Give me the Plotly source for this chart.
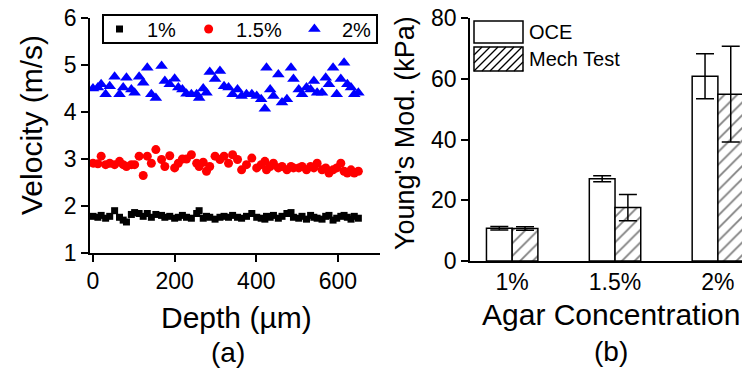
import plotly.graph_objects as go

# ---------------- data ----------------
depth = [0, 12, 20, 31, 41, 53, 65, 74, 82, 94, 102, 113, 123, 133, 143, 154, 168, 176, 188, 200,
         209, 219, 229, 241, 254, 260, 270, 278, 286, 299, 311, 321, 332, 342, 354, 364, 376, 389, 401, 412,
         421, 425, 434, 442, 454, 463, 475, 485, 491, 504, 512, 523, 533, 541, 549, 561, 570, 578, 588, 597,
         607, 615, 623, 632, 640, 650]

vel_1 = [1.78, 1.76, 1.80, 1.74, 1.78, 1.90, 1.76, 1.70, 1.66, 1.82,
         1.86, 1.84, 1.78, 1.84, 1.76, 1.82, 1.80, 1.76, 1.78, 1.74,
         1.76, 1.80, 1.76, 1.74, 1.84, 1.90, 1.74, 1.78, 1.76, 1.72,
         1.76, 1.78, 1.76, 1.80, 1.76, 1.74, 1.78, 1.84, 1.76, 1.74,
         1.72, 1.78, 1.76, 1.80, 1.74, 1.78, 1.84, 1.86, 1.76, 1.74,
         1.78, 1.72, 1.80, 1.76, 1.74, 1.72, 1.78, 1.80, 1.70, 1.74,
         1.78, 1.80, 1.76, 1.72, 1.78, 1.74]

vel_15 = [2.91, 2.90, 3.06, 2.88, 2.91, 2.88, 2.95, 2.88, 2.84, 2.88,
          2.88, 3.06, 2.65, 3.06, 2.91, 3.20, 2.99, 2.84, 3.07, 2.81,
          2.91, 3.00, 3.00, 3.09, 2.91, 2.84, 2.93, 2.74, 2.84, 3.06,
          2.99, 3.06, 2.91, 3.09, 2.99, 2.77, 2.88, 3.02, 2.81, 2.88,
          2.95, 2.77, 2.84, 2.91, 2.81, 2.84, 2.77, 2.84, 2.81, 2.81,
          2.84, 2.77, 2.84, 2.81, 2.91, 2.77, 2.81, 2.70, 2.77, 2.81,
          2.91, 2.74, 2.70, 2.77, 2.70, 2.74]

vel_2 = [4.50, 4.52, 4.59, 4.38, 4.55, 4.75, 4.38, 4.52, 4.73, 4.48,
         4.41, 4.75, 4.62, 4.94, 4.38, 4.30, 4.98, 4.66, 4.59, 4.71,
         4.52, 4.48, 4.39, 4.38, 4.38, 4.30, 4.50, 4.41, 4.85, 4.70,
         4.87, 4.55, 4.52, 4.38, 4.48, 4.34, 4.38, 4.38, 4.34, 4.27,
         4.07, 4.94, 4.48, 4.34, 4.80, 4.20, 4.27, 4.94, 4.70, 4.48,
         4.38, 4.52, 4.48, 4.66, 4.41, 4.41, 4.73, 4.59, 4.94, 4.38,
         4.70, 5.05, 4.59, 4.52, 4.38, 4.41]

concentrations = ["1%", "1.5%", "2%"]
oce_mod = [10.8, 27.1, 60.9]
oce_err = [0.6, 1.0, 7.4]
mech_mod = [10.7, 17.6, 55.0]
mech_err = [0.6, 4.3, 15.8]

# ---------------- helpers ----------------
W, H = 750, 373
OFF = 8  # browser page margin: the figure is drawn 8 px right and down
FONT = "Arial, Liberation Sans, sans-serif"


def px(x):
    return (x - OFF) / W


def py(y):
    return 1 - (y - OFF) / H


fig = go.Figure()

# ---------------- panel (a) ----------------
fig.add_trace(go.Scatter(x=depth, y=vel_1, mode="markers", name="1%",
                         marker=dict(symbol="square", size=7, color="black"),
                         xaxis="x", yaxis="y", legend="legend"))
fig.add_trace(go.Scatter(x=depth, y=vel_15, mode="markers", name="1.5%",
                         marker=dict(symbol="circle", size=9, color="#ff0000"),
                         xaxis="x", yaxis="y", legend="legend"))
fig.add_trace(go.Scatter(x=depth, y=vel_2, mode="markers", name="2%",
                         marker=dict(symbol="triangle-up", size=11, color="#0000ff"),
                         xaxis="x", yaxis="y", legend="legend"))

# ---------------- panel (b) ----------------
fig.add_trace(go.Bar(x=concentrations, y=oce_mod, name="OCE", showlegend=False,
                     marker=dict(color="white", line=dict(color="black", width=1.5)),
                     error_y=dict(type="data", array=oce_err, color="black", thickness=1.5, width=9),
                     xaxis="x2", yaxis="y2"))
fig.add_trace(go.Bar(x=concentrations, y=mech_mod, name="Mech Test", showlegend=False,
                     marker=dict(color="white", line=dict(color="black", width=1.5),
                                 pattern=dict(shape="/", fgcolor="black", bgcolor="white",
                                              size=9, solidity=0.2)),
                     error_y=dict(type="data", array=mech_err, color="black", thickness=1.5, width=9),
                     xaxis="x2", yaxis="y2"))

axis_common = dict(showline=True, linecolor="black", linewidth=1.5, showgrid=False, zeroline=False,
                   ticks="outside", ticklen=7, tickwidth=1.5, tickcolor="black", automargin=False,
                   ticklabeloverflow="allow",
                   tickfont=dict(family=FONT, size=23, color="black"))

fig.update_layout(
    width=W, height=H, autosize=False,
    margin=dict(l=0, r=0, t=0, b=0, autoexpand=False),
    paper_bgcolor="white", plot_bgcolor="white",
    barmode="group", bargap=0.5, bargroupgap=0,
    xaxis=dict(domain=[px(90), px(380)], range=[-7.3, 703], tickvals=[0, 200, 400, 600],
               anchor="y", **axis_common),
    yaxis=dict(domain=[py(253), py(18)], range=[1, 6], tickvals=[1, 2, 3, 4, 5, 6],
               anchor="x", **axis_common),
    xaxis2=dict(domain=[px(470), 1.0], range=[-0.41, 2.39], type="category",
                anchor="y2", **{**axis_common, "ticks": ""}),
    yaxis2=dict(domain=[py(261), py(18.3)], range=[0, 80], tickvals=[0, 20, 40, 60, 80],
                anchor="x2", **axis_common),
    legend=dict(orientation="h", x=px(92), y=py(29), xanchor="left", yanchor="middle",
                borderwidth=0, bgcolor="rgba(0,0,0,0)", itemwidth=45,
                font=dict(family=FONT, size=20, color="black"), itemclick=False),
)

# frame around the panel (a) legend
fig.add_shape(type="rect", xref="paper", yref="paper",
              x0=px(103), x1=px(377), y0=py(43), y1=py(15),
              line=dict(color="black", width=2), layer="above")

# axis titles / captions
ann = [
    dict(text="Velocity (m/s)", x=px(31), y=py(125), textangle=-90, size=30),
    dict(text="Depth (µm)", x=px(236), y=py(317), textangle=0, size=30),
    dict(text="(a)", x=px(228), y=py(352), textangle=0, size=28),
    dict(text="Young's Mod. (kPa)", x=px(405), y=py(133), textangle=-90, size=27),
    dict(text="Agar Concentration", x=px(611), y=py(314), textangle=0, size=30),
    dict(text="(b)", x=px(611), y=py(351), textangle=0, size=28),
    dict(text="OCE", x=px(527), y=py(32), textangle=0, size=20, xanchor="left"),
    dict(text="Mech Test", x=px(527), y=py(59), textangle=0, size=20, xanchor="left"),
]
for a in ann:
    fig.add_annotation(text=a["text"], x=a["x"], y=a["y"], xref="paper", yref="paper",
                       showarrow=False, textangle=a["textangle"],
                       xanchor=a.get("xanchor", "center"), yanchor="middle",
                       font=dict(family=FONT, size=a["size"], color="black"))

# legend boxes for panel (b)
bx0, bx1 = 474, 523
for (y0, y1) in [(21, 43), (47, 71)]:
    fig.add_shape(type="rect", xref="paper", yref="paper",
                  x0=px(bx0), x1=px(bx1), y0=py(y1), y1=py(y0),
                  line=dict(color="black", width=1.5), fillcolor="white", layer="above")

# hatch lines in the "Mech Test" legend box
hy0, hy1 = 47, 71
h = hy1 - hy0
segs = []
u = bx0 - h
while u < bx1:
    sx, sy = u, hy1
    ex, ey = u + h, hy0
    if sx < bx0:
        t = bx0 - sx
        sx, sy = bx0, hy1 - t
    if ex > bx1:
        t = ex - bx1
        ex, ey = bx1, hy0 + t
    if ex > sx:
        segs.append(f"M{px(sx):.5f},{py(sy):.5f} L{px(ex):.5f},{py(ey):.5f}")
    u += 8
fig.add_shape(type="path", xref="paper", yref="paper", path=" ".join(segs),
              line=dict(color="black", width=1.3), layer="above")

fig.write_html("out.html")
